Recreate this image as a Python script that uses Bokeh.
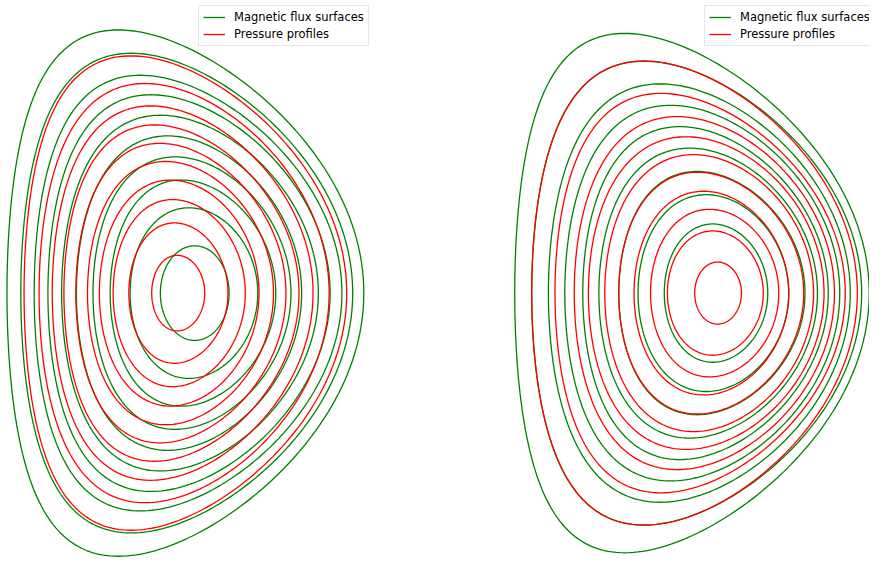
import numpy as np
from bokeh.plotting import figure
from bokeh.models import Range1d, Legend, LegendItem
from bokeh.layouts import row
from bokeh.embed import file_html
from bokeh.resources import INLINE

# ---- Shape parameters of each closed surface (inner -> outer), Miller-type description ----
# Left panel
left_Z0 = 301.0
left_flux_R0 = [197.8, 197.0, 196.0, 195.0, 192.0, 193.0, 192.0, 191.0, 189.7, 188.3]
left_flux_a = [35.0, 65.0, 84.3, 100.8, 114.7, 130.7, 143.7, 156.7, 169.0, 181.7]
left_flux_kappa = [1.39, 1.35, 1.38, 1.39, 1.41, 1.40, 1.42, 1.43, 1.46, 1.49]
left_flux_delta = [0.0, 0.08, 0.14, 0.17, 0.19, 0.23, 0.27, 0.31, 0.335, 0.376]

left_pres_R0 = [181.0, 181.2, 182.0, 182.0, 183.3, 183.7, 184.3, 185.5, 187.0, 188.3]
left_pres_a = [27.0, 50.5, 67.3, 81.3, 94.7, 107.0, 119.7, 132.8, 147.7, 164.3]
left_pres_kappa = [1.44, 1.43, 1.43, 1.43, 1.43, 1.44, 1.445, 1.45, 1.46, 1.485]
left_pres_delta = [0.04, 0.08, 0.10, 0.11, 0.16, 0.20, 0.23, 0.245, 0.27, 0.337]

# Right panel
right_Z0 = 301.0
right_flux_R0 = [728.7, 726.0, 724.5, 720.7, 718.0, 714.7, 711.7, 709.0, 704.2]
right_flux_a = [52.7, 76.7, 94.8, 111.3, 125.0, 140.0, 153.7, 168.0, 180.5]
right_flux_kappa = [1.35, 1.32, 1.32, 1.34, 1.37, 1.38, 1.40, 1.42, 1.48]
right_flux_delta = [0.065, 0.095, 0.16, 0.17, 0.21, 0.23, 0.26, 0.32, 0.38]

right_pres_R0 = [730.8, 728.0, 727.3, 724.0, 723.8, 721.7, 718.7, 716.8, 712.5, 706.8]
right_pres_a = [23.8, 48.8, 65.3, 78.8, 94.2, 106.3, 120.0, 132.5, 147.8, 165.8]
right_pres_kappa = [1.34, 1.31, 1.32, 1.33, 1.32, 1.34, 1.34, 1.37, 1.39, 1.44]
right_pres_delta = [0.02, 0.055, 0.08, 0.10, 0.15, 0.15, 0.17, 0.21, 0.27, 0.31]

labels = ["Magnetic flux surfaces", "Pressure profiles"]
GREEN = "#008000"
RED = "#ff0000"

theta = np.linspace(0, 2 * np.pi, 241)


def surfaces(R0s, As, Ks, Ds, Z0):
    xs, ys = [], []
    for R0, a, k, d in zip(R0s, As, Ks, Ds):
        xs.append(R0 + a * np.cos(theta + np.arcsin(d) * np.sin(theta)))
        ys.append(Z0 - k * a * np.sin(theta))
    return xs, ys


def panel(xr, width, flux, pres, Z0, leg_x):
    p = figure(width=width, height=557, x_range=Range1d(*xr), y_range=Range1d(573, 0),
               output_backend="svg", toolbar_location=None, min_border=0,
               x_axis_location=None, y_axis_location=None)
    p.grid.visible = False
    p.outline_line_color = None
    fx, fy = surfaces(*flux, Z0)
    px, py = surfaces(*pres, Z0)
    g = p.multi_line(fx, fy, line_color=GREEN, line_width=1.3)
    r = p.multi_line(px, py, line_color=RED, line_width=1.3)
    leg = Legend(items=[LegendItem(label=labels[0], renderers=[g]),
                        LegendItem(label=labels[1], renderers=[r])],
                 location=(leg_x, 511), margin=0, padding=4, spacing=3,
                 glyph_width=22, glyph_height=14, label_height=14, label_standoff=9,
                 label_text_font="DejaVu Sans", label_text_font_size="11.5px",
                 label_text_color="#000000",
                 border_line_color="#cccccc", border_line_width=1,
                 background_fill_color="white", background_fill_alpha=0.8)
    p.add_layout(leg)
    return p


p1 = panel((0, 442), 434, (left_flux_R0, left_flux_a, left_flux_kappa, left_flux_delta),
           (left_pres_R0, left_pres_a, left_pres_kappa, left_pres_delta), left_Z0, 198)
p2 = panel((442, 885), 435, (right_flux_R0, right_flux_a, right_flux_kappa, right_flux_delta),
           (right_pres_R0, right_pres_a, right_pres_kappa, right_pres_delta), right_Z0, 270)

layout = row(p1, p2, spacing=0)
open("out.html", "w").write(file_html(layout, INLINE))
